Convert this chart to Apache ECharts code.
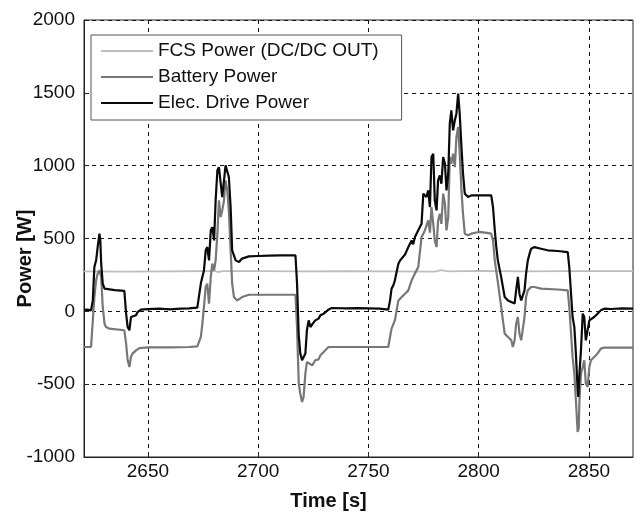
<!DOCTYPE html>
<html>
<head>
<meta charset="utf-8">
<script src="https://cdn.jsdelivr.net/npm/echarts@6/dist/echarts.min.js"></script>
<style>
  html, body { margin: 0; padding: 0; background: #fff; }
  #chart { width: 636px; height: 512px; }
</style>
</head>
<body>
<div id="chart"></div>
<script>
// axis ticks
const timeTicks = [2650, 2700, 2750, 2800, 2850]

// FCS power (DC/DC out), nearly flat
const fcsTime = [2621, 2640, 2660, 2680, 2682, 2684, 2700, 2720, 2740, 2760, 2780, 2783, 2786, 2800, 2820, 2840, 2870]
const fcsPower = [275, 273, 275, 277, 270, 276, 276, 274, 276, 275, 272, 283, 274, 278, 274, 276, 276]

// battery power
const battTime = [
  2621, 2624.2, 2625.0, 2625.7, 2626.5, 2627.2, 2628.0, 2628.8, 2629.5, 2630.3, 2631.0, 2632.5, 2639.3,
  2640.1, 2640.8, 2641.6, 2642.3, 2643.0, 2644.6, 2646.1, 2650, 2660, 2668.7, 2672.4,
  2674.0, 2674.7, 2675.4, 2676.2, 2676.9, 2677.7, 2678.5, 2679.2, 2680.0, 2680.7, 2681.5, 2682.2,
  2683.0, 2683.7, 2684.5, 2685.2, 2686.0, 2686.7, 2687.5, 2688.2, 2689.0, 2690.5, 2692.7, 2695.8,
  2716.9, 2717.6, 2718.4, 2719.1, 2719.9, 2720.6, 2721.4, 2722.1, 2722.9, 2724.5, 2725.9, 2727.4,
  2728.2, 2729.7, 2731.9, 2759.0, 2759.8, 2760.5, 2762.0, 2763.6, 2765.1, 2766.6, 2768.1, 2769.6,
  2771.1, 2772.6, 2774.1, 2774.9, 2775.6, 2777.1, 2777.9, 2778.6, 2779.4, 2780.1, 2780.9, 2781.6,
  2782.4, 2783.1, 2783.9, 2784.7, 2785.4, 2786.2, 2786.9, 2787.6, 2788.4, 2789.2, 2789.9, 2790.7,
  2791.4, 2792.2, 2792.9, 2793.7, 2795.2, 2796.7, 2800, 2803, 2805.7, 2806.5, 2807.3, 2808.7,
  2810.2, 2811.0, 2811.8, 2813.3, 2814.8, 2815.5, 2816.3, 2817.0, 2817.8, 2818.5, 2819.3, 2820.0,
  2820.8, 2821.5, 2822.3, 2823.8, 2825.3, 2828.3, 2835.9, 2840.4, 2841.1, 2841.9, 2842.6, 2843.4,
  2844.1, 2844.9, 2845.4, 2845.7, 2846.4, 2847.2, 2847.9, 2848.6, 2849.4, 2850.2, 2850.9, 2852.4,
  2853.9, 2855.4, 2857.0, 2870
]
const battPower = [
  -245, -245, -62, 98, 213, 259, 281, 236, 30, -85, -108, -119, -130,
  -222, -336, -382, -313, -290, -268, -252, -248, -247, -245, -240,
  -176, -84, 30, 167, 190, 53, 236, 328, 281, 350, 533, 762,
  647, 693, 762, 899, 830, 693, 419, 192, 98, 75, 98, 114,
  114, -100, -494, -565, -622, -588, -428, -348, -360, -371, -336, -330,
  -302, -279, -245, -245, -176, -119, -62, 75, 98, 121, 144, 213,
  260, 304, 510, 533, 556, 624, 540, 716, 602, 487, 441, 624,
  670, 600, 808, 739, 556, 647, 1059, 1013, 1082, 990, 1196, 1265,
  1082, 830, 670, 533, 522, 533, 545, 540, 533, 487, 350, 200,
  30, -62, -153, -176, -199, -245, -199, -85, -39, -153, -199, -190,
  -39, 98, 144, 167, 167, 156, 150, 144, 30, -153, -313, -428,
  -611, -828, -800, -611, -428, -382, -336, -496, -519, -382, -336, -313,
  -290, -256, -249, -249
]

// electric drive power
const elecTime = [
  2621, 2622.5, 2624.2, 2625.0, 2625.7, 2626.5, 2627.2, 2628.0, 2628.4, 2628.8, 2629.5, 2630.3, 2631.0,
  2635, 2639.3, 2640.1, 2640.8, 2641.6, 2642.3, 2643.0, 2644.6, 2645.3, 2646.8, 2650, 2655, 2660,
  2665, 2668.7, 2672.4, 2674.0, 2675.4, 2676.2, 2676.9, 2677.7, 2678.5, 2679.2, 2680.0, 2680.7,
  2681.5, 2682.2, 2683.0, 2683.7, 2684.5, 2685.2, 2686.0, 2686.7, 2687.5, 2688.2, 2689.8, 2691.3,
  2692.7, 2695.8, 2700, 2705, 2710, 2716.9, 2717.6, 2718.4, 2719.1, 2719.9, 2720.6, 2721.4, 2722.1,
  2722.9, 2723.7, 2724.5, 2725.9, 2727.4, 2728.2, 2729.7, 2731.9, 2733.4, 2740, 2745, 2750, 2755,
  2759.0, 2759.8, 2760.5, 2761.3, 2762.0, 2763.6, 2764.4, 2765.1, 2766.6, 2768.1, 2769.6, 2770.3,
  2771.1, 2772.6, 2774.1, 2774.9, 2775.6, 2776.3, 2777.1, 2777.9, 2778.6, 2779.4, 2780.1, 2780.9,
  2781.6, 2782.4, 2783.1, 2783.9, 2784.7, 2785.4, 2786.2, 2786.9, 2787.6, 2788.4, 2789.2, 2789.9,
  2790.7, 2791.4, 2792.2, 2792.9, 2793.7, 2795.2, 2796.7, 2800, 2805.7, 2806.5, 2807.3, 2808.0,
  2808.7, 2810.2, 2811.0, 2811.8, 2813.3, 2814.8, 2816.3, 2817.0, 2817.8, 2818.5, 2819.3, 2820.0,
  2820.8, 2821.5, 2822.3, 2823.1, 2823.8, 2825.3, 2828.3, 2831.3, 2835.9, 2840.4, 2841.1, 2841.9,
  2842.6, 2843.4, 2844.1, 2844.9, 2845.2, 2845.7, 2846.4, 2847.2, 2847.9, 2848.6, 2849.4, 2850.2,
  2850.9, 2852.4, 2853.9, 2855.4, 2857.0, 2860, 2865, 2870
]
const elecPower = [
  10, 12, 7, 75, 304, 350, 441, 533, 487, 327, 190, 156, 144,
  146, 140, -16, -108, -130, -39, -45, -27, -5, 12, 15, 18, 14,
  18, 20, 25, 192, 281, 419, 441, 350, 556, 578, 487, 762,
  968, 990, 878, 784, 899, 1002, 1013, 922, 716, 419, 350, 338,
  362, 377, 380, 382, 384, 384, 200, -165, -290, -336, -348, -290, -130,
  -62, -108, -90, -62, -50, -27, -16, 12, 23, 20, 22, 20, 18,
  12, 75, 156, 178, 213, 327, 350, 340, 390, 441, 487, 460,
  510, 556, 602, 808, 819, 785, 830, 716, 1059, 1082, 762, 693,
  899, 933, 876, 1059, 1013, 830, 945, 1288, 1379, 1242, 1311, 1357,
  1494, 1357, 1128, 945, 808, 785, 796, 796, 796, 716, 560, 441,
  350, 236, 167, 98, 75, 64, 53, 144, 236, 121, 75, 80,
  144, 259, 350, 396, 430, 441, 430, 419, 414, 407, 304, 121,
  -39, -108, -290, -542, -588, -428, -268, -16, -39, -199, -210, -62,
  -62, -39, -16, 7, 18, 16, 20, 18
]

const zip = (xs, ys) => xs.map((x, i) => [x, ys[i]])

const chart = echarts.init(document.getElementById('chart'))
const font = 'Liberation Sans, Arial, sans-serif'

chart.setOption({
  animation: false,
  backgroundColor: '#fff',
  textStyle: { fontFamily: font },
  grid: {
    left: 84,
    right: 3,
    top: 20,
    bottom: 55,
    containLabel: false,
    outerBoundsMode: 'none',
    show: true,
    borderColor: '#222',
    borderWidth: 1
  },
  legend: {
    orient: 'vertical',
    left: 91,
    top: 35,
    padding: [6, 23, 7, 10],
    itemGap: 6,
    itemWidth: 52,
    itemHeight: 2,
    icon: 'rect',
    backgroundColor: '#fff',
    borderColor: '#555',
    borderWidth: 1,
    textStyle: { fontSize: 19, color: '#111', fontFamily: font, lineHeight: 20 },
    data: ['FCS Power (DC/DC OUT)', 'Battery Power', 'Elec. Drive Power']
  },
  xAxis: {
    type: 'value',
    min: 2621,
    max: 2870,
    name: 'Time [s]',
    nameLocation: 'middle',
    nameGap: 34,
    nameMoveOverlap: false,
    nameTextStyle: { fontSize: 20, fontWeight: 'bold', color: '#111', padding: [0, 60, 0, 0] },
    axisLine: { show: true, onZero: false, lineStyle: { color: '#222' } },
    axisTick: { show: true, inside: true, length: 5, customValues: timeTicks, lineStyle: { color: '#222' } },
    axisLabel: { customValues: timeTicks, fontSize: 19, color: '#111', margin: 5, formatter: v => String(v) },
    splitLine: { show: true, lineStyle: { color: '#111', type: [4, 4], width: 1 } }
  },
  yAxis: {
    type: 'value',
    min: -1000,
    max: 2000,
    interval: 500,
    name: 'Power [W]',
    nameLocation: 'middle',
    nameGap: 49,
    nameMoveOverlap: false,
    nameTextStyle: { fontSize: 20, fontWeight: 'bold', color: '#111', padding: [0, 40, 0, 0] },
    axisLine: { show: true, lineStyle: { color: '#222' } },
    axisTick: { show: true, inside: true, length: 5, lineStyle: { color: '#222' } },
    axisLabel: { fontSize: 19, color: '#111', margin: 9, formatter: v => String(v) },
    splitLine: { show: true, lineStyle: { color: '#111', type: [4, 4], width: 1 } }
  },
  series: [
    {
      name: 'FCS Power (DC/DC OUT)',
      type: 'line',
      symbol: 'none',
      lineStyle: { color: '#bdbdbd', width: 1.8 },
      itemStyle: { color: '#bdbdbd' },
      data: zip(fcsTime, fcsPower)
    },
    {
      name: 'Battery Power',
      type: 'line',
      symbol: 'none',
      lineStyle: { color: '#777', width: 2.2 },
      itemStyle: { color: '#777' },
      data: zip(battTime, battPower)
    },
    {
      name: 'Elec. Drive Power',
      type: 'line',
      symbol: 'none',
      lineStyle: { color: '#0a0a0a', width: 2.2 },
      itemStyle: { color: '#0a0a0a' },
      data: zip(elecTime, elecPower)
    }
  ]
})
</script>
</body>
</html>
